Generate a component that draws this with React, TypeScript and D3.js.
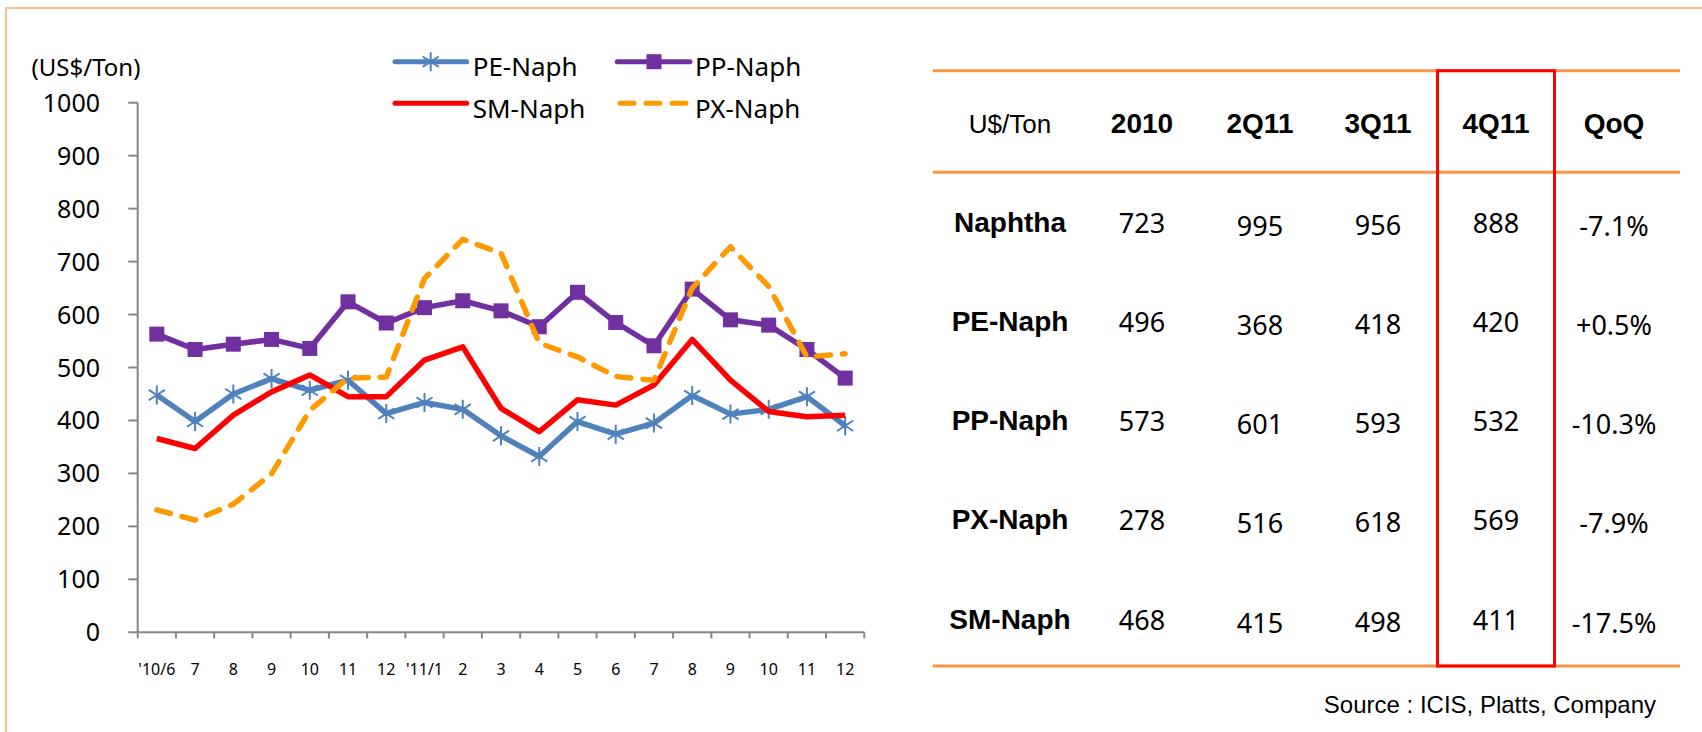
import * as React from "react";
import * as d3 from "d3";

// monthly spreads, US$/ton
const months = ["'10/6", "7", "8", "9", "10", "11", "12", "'11/1", "2", "3", "4", "5", "6", "7", "8", "9", "10", "11", "12"];
const peNaph = [448, 398, 450, 479, 457, 476, 413, 434, 421, 371, 332, 398, 374, 395, 447, 412, 421, 445, 390];
const ppNaph = [563, 534, 544, 553, 536, 624, 584, 613, 626, 607, 577, 642, 585, 541, 648, 590, 580, 534, 480];
const smNaph = [366, 347, 410, 454, 486, 445, 445, 514, 539, 423, 379, 439, 429, 467, 553, 476, 417, 407, 410];
const pxNaph = [231, 212, 242, 299, 419, 480, 482, 668, 742, 716, 546, 520, 483, 476, 650, 728, 653, 520, 526];
const yTicks = [0, 100, 200, 300, 400, 500, 600, 700, 800, 900, 1000];

// quarterly table
const tableCols = ["2010", "2Q11", "3Q11", "4Q11", "QoQ"];
const tableRows = ["Naphtha", "PE-Naph", "PP-Naph", "PX-Naph", "SM-Naph"];
const naphthaRow = ["723", "995", "956", "888", "-7.1%"];
const peRow = ["496", "368", "418", "420", "+0.5%"];
const ppRow = ["573", "601", "593", "532", "-10.3%"];
const pxRow = ["278", "516", "618", "569", "-7.9%"];
const smRow = ["468", "415", "498", "411", "-17.5%"];
const tableValues = [naphthaRow, peRow, ppRow, pxRow, smRow];

const W = 1702;
const H = 732;
const chartFont = "'Noto Sans', 'Open Sans', sans-serif";
const tableFont = "'Liberation Sans', Arial, sans-serif";

const C = {
    pe: "#4F81BD",
    pp: "#7030A0",
    sm: "#FF0000",
    px: "#FF9900",
    axis: "#868686",
    rule: "#F79646",
    frame: "#FAC090",
};

const starPath = (r: number) =>
    `M0,${-r}L0,${r}M${-r * 0.85},${-r * 0.55}L${r * 0.85},${r * 0.55}M${-r * 0.85},${r * 0.55}L${r * 0.85},${-r * 0.55}`;

function Star({ x, y }: { x: number; y: number }) {
    return <path d={starPath(9.5)} transform={`translate(${x},${y})`} stroke={C.pe} strokeWidth={2} fill="none" />;
}

function Square({ x, y }: { x: number; y: number }) {
    return <rect x={x - 7.5} y={y - 7.5} width={15} height={15} fill={C.pp} />;
}

export default function App() {
    const x = d3.scaleBand<number>().domain(months.map((_, i) => i)).range([137.7, 864.3]);
    const y = d3.scaleLinear().domain([0, 1000]).range([632.3, 102.7]);
    const cx = (i: number) => (x(i) as number) + x.bandwidth() / 2;

    const line = d3.line<number>().x((_, i) => cx(i)).y((d) => y(d));

    const series = [
        { key: "pe", values: peNaph, color: C.pe, dash: undefined as string | undefined },
        { key: "pp", values: ppNaph, color: C.pp, dash: undefined },
        { key: "sm", values: smNaph, color: C.sm, dash: undefined },
        { key: "px", values: pxNaph, color: C.px, dash: "14 12" },
    ];

    // table layout
    const colX = d3.scalePoint<string>().domain(tableCols).range([1142, 1614]);
    const rowY = d3.scalePoint<string>().domain(tableRows).range([232, 628.5]);
    const colDy = [1, 4, 3, 1, 4];
    const labelX = 1010;
    const ruleTop = 70.7;
    const ruleMid = 172.3;
    const ruleBottom = 666;
    const boxX0 = (colX("4Q11") as number) - 58.5;

    const xEdges = months.map((_, i) => x(i) as number).concat([x.range()[1]]);

    return (
        <svg
            width={W}
            height={H}
            style={{ position: "absolute", left: 0, top: 0, background: "#fff" }}
        >
            <rect x={6} y={8} width={W + 20} height={H + 20} fill="#fff" stroke={C.frame} strokeWidth={2} />

            {/* unit label */}
            <text x={31.6} y={76} fontFamily={chartFont} fontSize={24} fill="#000">
                (US$/Ton)
            </text>

            {/* y axis */}
            <line x1={137.7} x2={137.7} y1={y(1000)} y2={y(0)} stroke={C.axis} strokeWidth={2} />
            {yTicks.map((t) => (
                <g key={t}>
                    <line x1={128.3} x2={137.7} y1={y(t)} y2={y(t)} stroke={C.axis} strokeWidth={2} />
                    <text x={100} y={y(t) + 9} textAnchor="end" fontFamily={chartFont} fontSize={25} fill="#000">
                        {t}
                    </text>
                </g>
            ))}

            {/* x axis */}
            <line x1={x.range()[0]} x2={x.range()[1]} y1={y(0)} y2={y(0)} stroke={C.axis} strokeWidth={2} />
            {xEdges.map((e, i) => (
                <line key={i} x1={e} x2={e} y1={y(0)} y2={y(0) + 6} stroke={C.axis} strokeWidth={2} />
            ))}
            {months.map((m, i) => (
                <text key={i} x={cx(i)} y={675.4} textAnchor="middle" fontFamily={chartFont} fontSize={16} fill="#000">
                    {m}
                </text>
            ))}

            {/* series */}
            {series.map((s) => (
                <g key={s.key}>
                    <path
                        d={line(s.values) as string}
                        fill="none"
                        stroke={s.color}
                        strokeWidth={5.5}
                        strokeLinejoin="round"
                        strokeLinecap={s.dash ? "round" : "butt"}
                        strokeDasharray={s.dash}
                    />
                    {s.key === "pe" && s.values.map((v, i) => <Star key={i} x={cx(i)} y={y(v)} />)}
                    {s.key === "pp" && s.values.map((v, i) => <Square key={i} x={cx(i)} y={y(v)} />)}
                </g>
            ))}

            {/* legend */}
            <g fontFamily={chartFont} fontSize={26} fill="#000">
                <line x1={395} x2={466.7} y1={61.7} y2={61.7} stroke={C.pe} strokeWidth={5} strokeLinecap="round" />
                <Star x={430.7} y={61.7} />
                <text x={472.7} y={76}>PE-Naph</text>

                <line x1={617.3} x2={690} y1={61.7} y2={61.7} stroke={C.pp} strokeWidth={5} strokeLinecap="round" />
                <Square x={654} y={61.7} />
                <text x={695} y={76}>PP-Naph</text>

                <line x1={395} x2={466.7} y1={103.3} y2={103.3} stroke={C.sm} strokeWidth={5} strokeLinecap="round" />
                <text x={472.7} y={118.3}>SM-Naph</text>

                <line x1={620} x2={688} y1={103.3} y2={103.3} stroke={C.px} strokeWidth={5} strokeLinecap="round" strokeDasharray="14 12" />
                <text x={695} y={118.3}>PX-Naph</text>
            </g>

            {/* table */}
            {[ruleTop, ruleMid, ruleBottom].map((ry, i) => (
                <line key={i} x1={932.7} x2={1680} y1={ry} y2={ry} stroke={C.rule} strokeWidth={3} />
            ))}

            <text x={labelX} y={132.5} textAnchor="middle" fontFamily={tableFont} fontSize={26} fill="#000">
                U$/Ton
            </text>
            {tableCols.map((c) => (
                <text key={c} x={colX(c)} y={133.3} textAnchor="middle" fontFamily={tableFont} fontWeight="bold" fontSize={28} fill="#000">
                    {c}
                </text>
            ))}

            {tableRows.map((r, ri) => (
                <g key={r}>
                    <text x={labelX} y={rowY(r)} textAnchor="middle" fontFamily={tableFont} fontWeight="bold" fontSize={28} fill="#000">
                        {r}
                    </text>
                    {tableValues[ri].map((v, ci) => (
                        <text
                            key={ci}
                            x={colX(tableCols[ci])}
                            y={(rowY(r) as number) + colDy[ci]}
                            textAnchor="middle"
                            fontFamily={chartFont}
                            fontSize={27}
                            fill="#000"
                        >
                            {v}
                        </text>
                    ))}
                </g>
            ))}

            <rect
                x={boxX0}
                y={ruleTop}
                width={117}
                height={ruleBottom - ruleTop}
                fill="none"
                stroke={C.sm}
                strokeWidth={3}
            />

            <text x={1656} y={713.3} textAnchor="end" fontFamily={tableFont} fontSize={24} fill="#000">
                Source : ICIS, Platts, Company
            </text>
        </svg>
    );
}
